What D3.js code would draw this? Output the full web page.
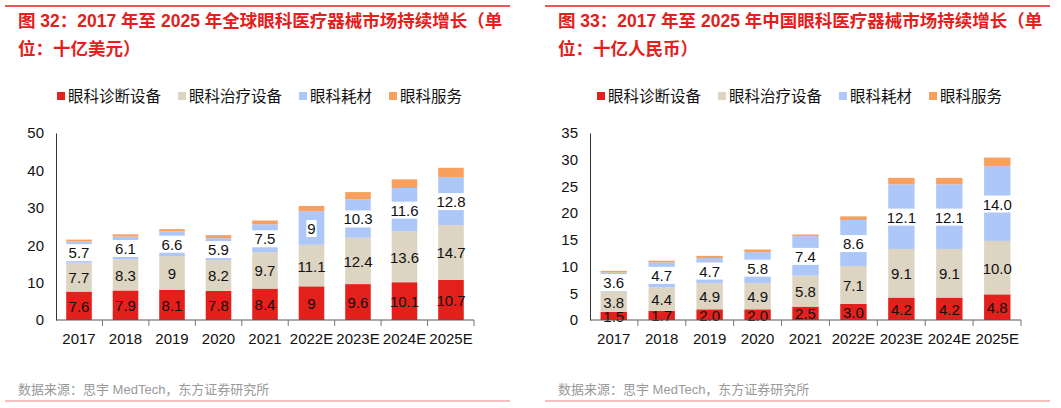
<!DOCTYPE html>
<html><head><meta charset="utf-8">
<script src="https://cdn.jsdelivr.net/npm/d3@7"></script>
<style>body{margin:0;background:#fff;font-family:"Liberation Sans","Noto Sans CJK SC",sans-serif}</style>
</head><body><svg id="c" width="1061" height="408"></svg>
<script>
const years = ['2017','2018','2019','2020','2021','2022E','2023E','2024E','2025E'];
const seriesNames = ['眼科诊断设备','眼科治疗设备','眼科耗材','眼科服务'];
const colors = ['#e3201b','#ddd5c2','#adc8f8','#f9a05f'];

// global, billion USD
const gDiag = [7.6,7.9,8.1,7.8,8.4,9,9.6,10.1,10.7];
const gTreat = [7.7,8.3,9,8.2,9.7,11.1,12.4,13.6,14.7];
const gCons = [5.7,6.1,6.6,5.9,7.5,9,10.3,11.6,12.8];
const gServ = [0.5,0.6,0.6,0.8,1.0,1.4,1.9,2.3,2.5];
const gTicks = [0,10,20,30,40,50];

// China, billion RMB
const cDiag = [1.5,1.7,2.0,2.0,2.5,3.0,4.2,4.2,4.8];
const cTreat = [3.8,4.4,4.9,4.9,5.8,7.1,9.1,9.1,10.0];
const cCons = [3.6,4.7,4.7,5.8,7.4,8.6,12.1,12.1,14.0];
const cServ = [0.3,0.3,0.4,0.5,0.3,0.7,1.2,1.2,1.6];
const cTicks = [0,5,10,15,20,25,30,35];

const svg = d3.select('#c');

function panel(ox, title1, title2, series, ticks, yMax, fmt, axisX, plotR) {
  const g = svg.append('g').attr('transform', `translate(${ox},0)`);
  g.append('line').attr('x1',5).attr('x2',510).attr('y1',6).attr('y2',6).attr('stroke','#e3201b').attr('stroke-width',1.5);
  g.append('line').attr('x1',5).attr('x2',510).attr('y1',401).attr('y2',401).attr('stroke','#e88080').attr('stroke-width',1);
  g.append('text').attr('x',18).attr('y',27).attr('fill','#e3201b').attr('font-size',17.5).attr('font-weight','bold').text(title1);
  g.append('text').attr('x',18).attr('y',55).attr('fill','#e3201b').attr('font-size',17.5).attr('font-weight','bold').text(title2);
  g.append('text').attr('x',18).attr('y',394).attr('fill','#999').attr('font-size',13).text('数据来源：思宇 MedTech，东方证券研究所');

  let lx = 57;
  seriesNames.forEach((n,i) => {
    g.append('rect').attr('x',lx).attr('y',92).attr('width',8).attr('height',8).attr('fill',colors[i]);
    g.append('text').attr('x',lx+11).attr('y',102).attr('font-size',15.5).attr('fill','#111').text(n);
    lx += 11 + n.length*15.5 + 17;
  });

  const x = d3.scaleBand().domain(years).range([axisX, plotR]).paddingInner(0.45).paddingOuter(0.22);
  const y = d3.scaleLinear().domain([0,yMax]).range([320,133]);

  const rows = years.map((yr,i) => ({year:yr, s0:series[0][i], s1:series[1][i], s2:series[2][i], s3:series[3][i]}));
  const stack = d3.stack().keys(['s0','s1','s2','s3'])(rows);

  stack.forEach((layer,k) => {
    g.append('g').selectAll('rect').data(layer).join('rect')
      .attr('x', d => x(d.data.year)).attr('width', x.bandwidth())
      .attr('y', d => y(d[1])).attr('height', d => y(d[0]) - y(d[1]))
      .attr('fill', colors[k]);
    if (k === 3) return;
    layer.forEach(d => {
      const t = fmt(d.data['s'+k]);
      const cx = x(d.data.year) + x.bandwidth()/2, cy = (y(d[0])+y(d[1]))/2;
      if (k === 2) {
        const w = t.length*8.3 + 2;
        g.append('rect').attr('x',cx-w/2).attr('y',cy-8).attr('width',w).attr('height',17).attr('fill','#fff');
      }
      g.append('text').attr('x',cx).attr('y',cy+6).attr('text-anchor','middle').attr('font-size',15).attr('fill','#111').text(t);
    });
  });

  const ya = g.append('g').attr('transform',`translate(${axisX},0)`)
    .call(d3.axisLeft(y).tickValues(ticks).tickSize(0).tickPadding(12).tickFormat(d3.format('d')));
  ya.select('.domain').attr('stroke','#333');
  ya.selectAll('text').attr('font-size',15).attr('fill','#111').attr('font-family','Liberation Sans');

  const xa = g.append('g').attr('transform','translate(0,320)')
    .call(d3.axisBottom(x).tickSize(0).tickPadding(13));
  xa.select('.domain').attr('stroke','#555').attr('d',`M${axisX},0H${plotR}`);
  xa.selectAll('text').attr('font-size',15).attr('fill','#111').attr('font-family','Liberation Sans');
  d3.range(1,10).forEach(i => {
    const tx = axisX + (plotR-axisX)/9*i;
    g.append('line').attr('x1',tx).attr('x2',tx).attr('y1',320).attr('y2',326).attr('stroke','#777');
  });
}

panel(0, '图 32：2017 年至 2025 年全球眼科医疗器械市场持续增长（单', '位：十亿美元）',
  [gDiag,gTreat,gCons,gServ], gTicks, 50, d => String(d), 56, 474);
panel(540, '图 33：2017 年至 2025 年中国眼科医疗器械市场持续增长（单', '位：十亿人民币）',
  [cDiag,cTreat,cCons,cServ], cTicks, 35, d => d.toFixed(1), 50, 481);
</script></body></html>
